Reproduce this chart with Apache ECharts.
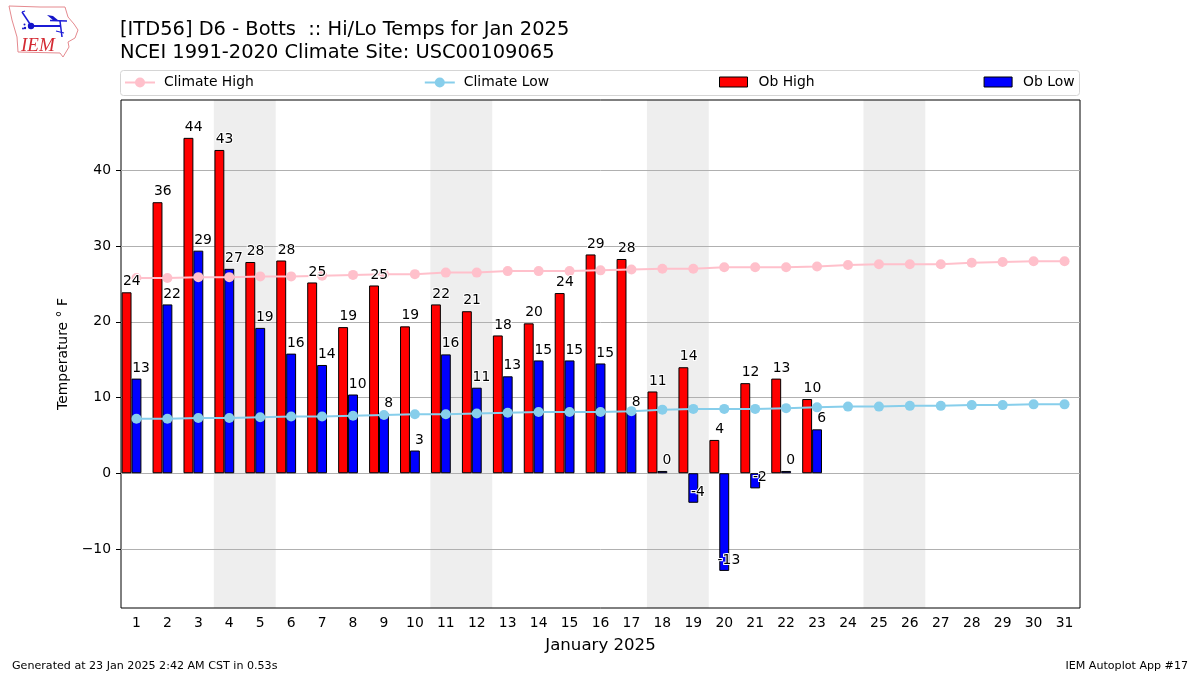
<!DOCTYPE html>
<html>
<head>
<meta charset="utf-8">
<style>html,body{margin:0;padding:0;background:#fff}#c{width:1200px;height:675px}</style>
<script src="https://cdn.jsdelivr.net/npm/echarts@6/dist/echarts.min.js"></script>
</head>
<body>
<div id="c"></div>
<script>
const days = ['1','2','3','4','5','6','7','8','9','10','11','12','13','14','15','16','17','18','19','20','21','22','23','24','25','26','27','28','29','30','31'];
const obHigh = [23.9,35.8,44.3,42.7,27.9,28.1,25.2,19.3,24.8,19.4,22.3,21.4,18.2,19.8,23.8,28.9,28.3,10.8,14.0,4.4,11.9,12.5,9.8,null,null,null,null,null,null,null,null];
const obLow = [12.5,22.3,29.4,27.0,19.2,15.8,14.3,10.4,7.9,3.0,15.7,11.3,12.8,14.9,14.9,14.5,8.0,0.3,-3.9,-12.9,-2.0,0.3,5.8,null,null,null,null,null,null,null,null];
const climateHigh = [25.8,25.8,25.9,25.9,26.0,26.0,26.1,26.2,26.3,26.3,26.5,26.5,26.7,26.7,26.7,26.8,26.9,27.0,27.0,27.2,27.2,27.2,27.3,27.5,27.6,27.6,27.6,27.8,27.9,28.0,28.0];
const climateLow = [7.2,7.2,7.3,7.3,7.4,7.5,7.5,7.6,7.7,7.8,7.8,7.9,8.0,8.1,8.1,8.1,8.2,8.4,8.5,8.5,8.5,8.6,8.7,8.8,8.8,8.9,8.9,9.0,9.0,9.1,9.1];
const weekendBands = [[3.5,5.5],[10.5,12.5],[17.5,19.5],[24.5,26.5]];
const yTicks = [-10,0,10,20,30,40];
const titleText = '[ITD56] D6 - Botts  :: Hi/Lo Temps for Jan 2025\nNCEI 1991-2020 Climate Site: USC00109065';
const footLeft = 'Generated at 23 Jan 2025 2:42 AM CST in 0.53s';
const footRight = 'IEM Autoplot App #17';

const FONT = '"DejaVu Sans"';
function barSeries(name, arr, color) {
  return {
    name, type: 'bar', data: arr, barWidth: '32%', barGap: 0, z: 3,
    itemStyle: { color, borderColor: '#000', borderWidth: 1 }, animation: false
  };
}
function lineSeries(name, arr, color) {
  return {
    name, type: 'line', data: arr, symbol: 'circle', symbolSize: 10, showSymbol: true, z: 4,
    lineStyle: { color, width: 2 }, itemStyle: { color }, animation: false
  };
}
function labelSeries(name, arr, dx) {
  return {
    name, type: 'scatter', data: arr, symbolSize: 1, z: 6, silent: true, animation: false,
    itemStyle: { color: 'rgba(0,0,0,0)', opacity: 1 },
    label: {
      show: true, position: 'top', distance: 3, offset: [dx, 0], opacity: 1,
      fontFamily: FONT, fontSize: 13.9, color: '#000',
      textBorderColor: '#fff', textBorderWidth: 2,
      formatter: p => String(Math.round(p.value))
    }
  };
}
const chart = echarts.init(document.getElementById('c'), null, { renderer: 'canvas' });
chart.setOption({
  animation: false,
  backgroundColor: '#fff',
  title: [
    { text: titleText, left: 120, top: 18, padding: 0,
      textStyle: { fontFamily: FONT, fontSize: 19.45, fontWeight: 'normal', color: '#000', lineHeight: 23 } },
    { text: footLeft, left: 12, top: 661, padding: 0,
      textStyle: { fontFamily: FONT, fontSize: 11.1, fontWeight: 'normal', color: '#000' } },
    { text: footRight, right: 12, top: 661, padding: 0,
      textStyle: { fontFamily: FONT, fontSize: 11.1, fontWeight: 'normal', color: '#000' } }
  ],
  legend: [
    { data: ['Climate High', 'Climate Low'], left: 124, top: 75.5, padding: 0,
      itemGap: 170, itemWidth: 30, itemHeight: 12.5, selectedMode: false,
      textStyle: { fontFamily: FONT, fontSize: 13.9, color: '#000', padding: [0,0,0,4] } },
    { data: [{ name: 'Ob High', icon: 'rect' }, { name: 'Ob Low', icon: 'rect' }], left: 719, top: 75, padding: 0,
      itemGap: 169, itemWidth: 28, itemHeight: 10, selectedMode: false,
      itemStyle: { borderColor: '#000', borderWidth: 1 },
      textStyle: { fontFamily: FONT, fontSize: 13.9, color: '#000', padding: [0,0,0,6] } }
  ],
  grid: { left: 121, right: 120, top: 100, bottom: 67, show: true, borderColor: '#000', borderWidth: 1, backgroundColor: 'transparent' },
  xAxis: [
    { type: 'category', data: days, boundaryGap: true,
      name: 'January 2025', nameLocation: 'middle', nameGap: 29,
      nameTextStyle: { fontFamily: FONT, fontSize: 16.6, color: '#000' },
      axisLine: { show: false, onZero: false },
      axisTick: { alignWithLabel: true, length: 5, lineStyle: { color: '#000' } },
      axisLabel: { interval: 0, fontFamily: FONT, fontSize: 13.9, color: '#000', margin: 8 },
      splitLine: { show: false } },
    { type: 'value', min: 0.5, max: 31.5, show: false, splitLine: { show: false } }
  ],
  yAxis: {
    type: 'value', min: -17.8, max: 49.3,
    name: 'Temperature \u00b0 F', nameLocation: 'middle', nameGap: 50, nameRotate: 90,
    nameTextStyle: { fontFamily: FONT, fontSize: 13.9, color: '#000' },
    axisLine: { show: false },
    axisTick: { show: true, length: 5, customValues: yTicks, lineStyle: { color: '#000' } },
    axisLabel: { customValues: yTicks, fontFamily: FONT, fontSize: 13.9, color: '#000', margin: 10,
      formatter: v => String(v).replace('-', '\u2212') },
    splitLine: { show: true, lineStyle: { color: '#b0b0b0', width: 1 } }
  },
  series: [
    { name: 'weekend', type: 'line', xAxisIndex: 1, data: [], silent: true, z: -1,
      markArea: { silent: true, z: -1, itemStyle: { color: '#eeeeee' },
        data: weekendBands.map(b => [{ xAxis: b[0] }, { xAxis: b[1] }]) } },
    barSeries('Ob High', obHigh, '#ff0000'),
    barSeries('Ob Low', obLow, '#0000ff'),
    barSeries('spacer', [], 'rgba(0,0,0,0)'),
    lineSeries('Climate High', climateHigh, '#ffc0cb'),
    lineSeries('Climate Low', climateLow, '#87ceeb'),
    labelSeries('Ob High label', obHigh, -4.65),
    labelSeries('Ob Low label', obLow, 4.65)
  ],
  graphic: [
    { type: 'rect', silent: true, z: -10, shape: { x: 120.5, y: 70.5, width: 959, height: 25, r: 3 }, style: { fill: '#fff', stroke: '#d5d5d5', lineWidth: 1 } },
    { type: 'polyline', silent: true, shape: { points: [[9,6],[40,7],[65,7],[68,17],[74,24],[78,30],[75,38],[68,42],[69,47],[63,57],[60,53],[18,52],[17,37],[12,20],[9,6]] },
      style: { fill: 'none', stroke: '#e58a8f', lineWidth: 1 } },
    { type: 'text', silent: true, left: 21, top: 36, style: { text: 'IEM', font: 'italic 19px "Liberation Serif"', fill: '#d42a33' } },
    { type: 'line', silent: true, shape: { x1: 31, y1: 26, x2: 60, y2: 26 }, style: { stroke: '#1b1bd6', lineWidth: 2 } },
    { type: 'circle', silent: true, shape: { cx: 31, cy: 26, r: 3.2 }, style: { fill: '#1414c8' } },
    { type: 'line', silent: true, shape: { x1: 22, y1: 12, x2: 30, y2: 24 }, style: { stroke: '#1b1bd6', lineWidth: 1.5 } },
    { type: 'line', silent: true, shape: { x1: 22, y1: 12, x2: 25, y2: 11 }, style: { stroke: '#1b1bd6', lineWidth: 1.2 } },
    { type: 'polygon', silent: true, shape: { points: [[47,15],[53,16],[59,21],[54,21]] }, style: { fill: '#1414c8' } },
    { type: 'line', silent: true, shape: { x1: 50, y1: 20.5, x2: 67, y2: 21 }, style: { stroke: '#1b1bd6', lineWidth: 1.5 } },
    { type: 'line', silent: true, shape: { x1: 60, y1: 21, x2: 62, y2: 37 }, style: { stroke: '#1b1bd6', lineWidth: 1.5 } },
    { type: 'line', silent: true, shape: { x1: 56, y1: 31, x2: 64, y2: 33 }, style: { stroke: '#1b1bd6', lineWidth: 1.2 } },
    { type: 'circle', silent: true, shape: { cx: 25, cy: 28, r: 1.2 }, style: { fill: '#1414c8' } },
    { type: 'circle', silent: true, shape: { cx: 23, cy: 28.5, r: 1 }, style: { fill: '#1414c8' } },
    { type: 'circle', silent: true, shape: { cx: 24.5, cy: 24.5, r: 1 }, style: { fill: '#1414c8' } }
  ]
});
</script>
</body>
</html>
